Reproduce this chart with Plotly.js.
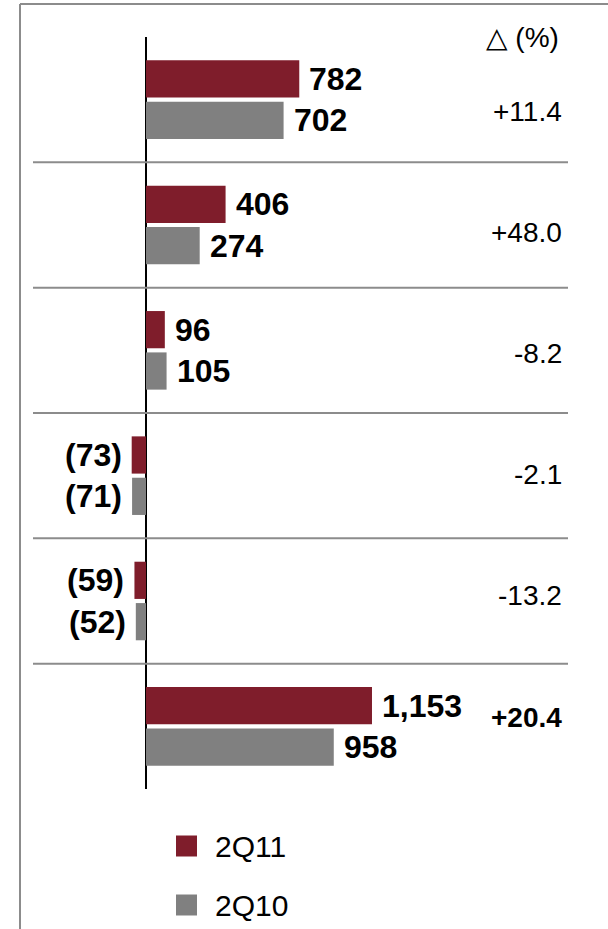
<!DOCTYPE html>
<html>
<head>
<meta charset="utf-8">
<script src="https://cdn.plot.ly/plotly-3.0.1.min.js"></script>
<style>
html,body{margin:0;padding:0;background:#fff;}
#chart{width:608px;height:929px;}
</style>
</head>
<body>
<div id="chart"></div>
<script>
// ---- data ----
var rows = [0, 1, 2, 3, 4, 5];
var series2Q11 = [782, 406, 96, -73, -59, 1153];
var series2Q10 = [702, 274, 105, -71, -52, 958];
var deltaLabels = ['+11.4', '+48.0', '-8.2', '-2.1', '-13.2', '+20.4'];
var deltaBold = [false, false, false, false, false, true];
var seriesNames = ['2Q11', '2Q10'];
var deltaHeader = '\u25B3 (%)';

// ---- style ----
var RED = '#7f1d2b', GRAY = '#808080', LINE = '#8c8c8c';
var FONT = 'Liberation Sans, Arial, DejaVu Sans, sans-serif';
var W = 608, H = 929;
var M = {l: 33, r: 40, t: 37, b: 140};
var PW = W - M.l - M.r, PH = H - M.t - M.b;
function px(x){ return (x - M.l) / PW; }
function py(y){ return (H - M.b - y) / PH; }
var BARGAP = 0.34, GROUPGAP = 0.1;
var slot = (1 - BARGAP) / 2;

function fmt(v){
  var s = Math.abs(v).toLocaleString('en-US');
  return v < 0 ? '(' + s + ')' : s;
}

var traces = [
  {type:'bar', orientation:'h', name:seriesNames[0], y:rows, x:series2Q11,
   marker:{color:RED}, hoverinfo:'x'},
  {type:'bar', orientation:'h', name:seriesNames[1], y:rows, x:series2Q10,
   marker:{color:GRAY}, hoverinfo:'x'},
  {type:'scatter', mode:'markers', x:[0], y:[0], yaxis:'y2',
   marker:{opacity:0}, hoverinfo:'skip', showlegend:false}
];

var annotations = [];
[series2Q11, series2Q10].forEach(function(vals, k){
  var off = (k === 0 ? -slot/2 : slot/2);
  vals.forEach(function(v, i){
    annotations.push({
      x: v, y: rows[i] + off, xref:'x', yref:'y',
      text: '<b>' + fmt(v) + '</b>', showarrow:false,
      xanchor: v >= 0 ? 'left' : 'right', yanchor:'middle',
      xshift: v >= 0 ? 8 : -8,
      font:{family:FONT, size:32, color:'#000'}
    });
  });
});
deltaLabels.forEach(function(t, i){
  annotations.push({
    x: 1, y: rows[i], xref:'paper', yref:'y2',
    text: deltaBold[i] ? '<b>' + t + '</b>' : t, showarrow:false,
    xanchor:'right', yanchor:'middle', xshift:-4,
    font:{family:FONT, size:28, color:'#000'}
  });
});
annotations.push({
  x: 1, y: 1, xref:'paper', yref:'paper', text: deltaHeader, showarrow:false,
  xanchor:'right', yanchor:'middle', xshift:-7,
  font:{family:FONT, size:28, color:'#000'}
});
// legend (drawn manually for large swatches)
var legendRows = [846, 905];
var shapes = [];
seriesNames.forEach(function(n, k){
  var cy = legendRows[k];
  shapes.push({type:'rect', xref:'paper', yref:'paper',
    x0:px(176), x1:px(197), y0:py(cy-10.5), y1:py(cy+10.5),
    fillcolor: k === 0 ? RED : GRAY, line:{width:0}});
  annotations.push({x:px(213), y:py(cy), xref:'paper', yref:'paper',
    text:n, showarrow:false, xanchor:'left', yanchor:'middle',
    font:{family:FONT, size:30, color:'#000'}});
});
// separators between groups
for (var i = 0; i < rows.length - 1; i++) {
  shapes.push({type:'line', xref:'paper', yref:'y', x0:0, x1:1,
    y0:rows[i] + 0.5, y1:rows[i] + 0.5, line:{color:LINE, width:2}});
}
// frame (left and top)
shapes.push({type:'line', xref:'paper', yref:'paper', x0:px(20), x1:px(20),
  y0:py(4), y1:py(H+5), line:{color:LINE, width:2}});
shapes.push({type:'line', xref:'paper', yref:'paper', x0:px(20), x1:px(W+5),
  y0:py(4), y1:py(4), line:{color:LINE, width:2}});

var zeroPx = 146, pxPerUnit = 0.196;
var layout = {
  width:W, height:H, margin:M,
  paper_bgcolor:'#fff', plot_bgcolor:'#fff',
  showlegend:false, barmode:'group', bargap:BARGAP, bargroupgap:GROUPGAP,
  xaxis:{range:[-(zeroPx - M.l)/pxPerUnit, (W - M.r - zeroPx)/pxPerUnit],
    showgrid:false, showticklabels:false, ticks:'',
    zeroline:true, zerolinecolor:'#000', zerolinewidth:2, fixedrange:true},
  yaxis:{range:[5.5, -0.5], showgrid:false, showticklabels:false, ticks:'',
    zeroline:false, fixedrange:true},
  yaxis2:{overlaying:'y', range:[5.594, -0.611], visible:false, fixedrange:true},
  annotations:annotations, shapes:shapes,
  font:{family:FONT}
};
Plotly.newPlot('chart', traces, layout, {displayModeBar:false, staticPlot:true});
</script>
</body>
</html>
